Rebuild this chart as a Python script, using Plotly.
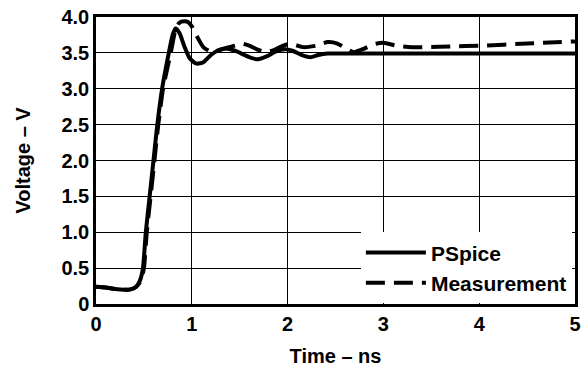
import plotly.graph_objects as go

# PSpice simulation (solid)
pspice_t = [0.0, 0.1, 0.2, 0.3, 0.35, 0.42, 0.46, 0.49, 0.52, 0.56, 0.60, 0.64, 0.69, 0.76, 0.80, 0.83,
            0.87, 0.92, 0.98, 1.05, 1.12, 1.2, 1.28, 1.35, 1.45, 1.55, 1.62, 1.69, 1.78, 1.88, 1.97,
            2.05, 2.15, 2.24, 2.32, 2.42, 2.6, 3.0, 3.5, 4.0, 4.5, 5.0]
pspice_v = [0.24, 0.23, 0.21, 0.20, 0.20, 0.24, 0.33, 0.5, 1.0, 1.5, 2.0, 2.5, 3.0, 3.5, 3.75, 3.84,
            3.78, 3.6, 3.42, 3.35, 3.37, 3.47, 3.54, 3.56, 3.53, 3.47, 3.43, 3.41, 3.45, 3.52, 3.55,
            3.53, 3.47, 3.44, 3.47, 3.49, 3.49, 3.49, 3.49, 3.49, 3.49, 3.49]

# Measurement (dashed)
meas_t = [0.0, 0.1, 0.2, 0.3, 0.35, 0.42, 0.47, 0.5, 0.53, 0.57, 0.61, 0.65, 0.70, 0.78, 0.83, 0.87,
          0.92, 0.96, 1.0, 1.05, 1.12, 1.21, 1.28, 1.36, 1.45, 1.52, 1.6, 1.68, 1.76, 1.84, 1.92,
          2.0, 2.08, 2.16, 2.3, 2.42, 2.52, 2.6, 2.69, 2.8, 2.9, 3.0, 3.14, 3.3, 3.45, 3.7, 4.0,
          4.5, 5.0]
meas_v = [0.24, 0.23, 0.21, 0.20, 0.20, 0.24, 0.33, 0.5, 1.0, 1.5, 2.0, 2.5, 3.0, 3.5, 3.82, 3.92,
          3.94, 3.93, 3.87, 3.74, 3.58, 3.51, 3.53, 3.57, 3.6, 3.63, 3.6, 3.55, 3.51, 3.53, 3.58,
          3.62, 3.61, 3.58, 3.6, 3.65, 3.63, 3.57, 3.51, 3.56, 3.62, 3.64, 3.6, 3.58, 3.58, 3.59, 3.60,
          3.63, 3.66]

x_ticks = [0, 1, 2, 3, 4, 5]
x_tick_labels = ["0", "1", "2", "3", "4", "5"]
y_ticks = [0, 0.5, 1.0, 1.5, 2.0, 2.5, 3.0, 3.5, 4.0]
y_tick_labels = ["0", "0.5", "1.0", "1.5", "2.0", "2.5", "3.0", "3.5", "4.0"]

FONT = "Liberation Sans, Arial, Helvetica, sans-serif"

fig = go.Figure()
fig.add_trace(go.Scatter(x=pspice_t, y=pspice_v, mode="lines", name="PSpice",
                         line=dict(color="black", width=4, shape="spline", smoothing=0.6)))
fig.add_trace(go.Scatter(x=meas_t, y=meas_v, mode="lines", name="Measurement",
                         line=dict(color="black", width=4, dash="19px,9px", shape="spline", smoothing=0.6)))

axis_common = dict(showgrid=True, gridcolor="black", gridwidth=1.3, zeroline=False,
                   showline=True, linecolor="black", linewidth=2.5, mirror=True,
                   ticks="", tickfont=dict(family=FONT, size=20, color="black", weight="bold"))

fig.update_layout(
    width=587, height=371,
    margin=dict(l=96, r=6, t=14, b=63),
    plot_bgcolor="white", paper_bgcolor="white",
    showlegend=True,
    legend=dict(x=0.553, y=0.25, xanchor="left", yanchor="top", bgcolor="white",
                borderwidth=0, itemwidth=60, tracegroupgap=0,
                font=dict(family=FONT, size=21, color="black", weight="bold")),
    xaxis=dict(range=[0, 5], tickvals=x_ticks, ticktext=x_tick_labels,
               title=dict(text="Time – ns", font=dict(family=FONT, size=20, color="black", weight="bold"),
                          standoff=16),
               **axis_common),
    yaxis=dict(range=[0, 4], tickvals=y_ticks, ticktext=y_tick_labels,
               title=dict(text="Voltage – V", font=dict(family=FONT, size=20, color="black", weight="bold"),
                          standoff=26),
               **axis_common),
)

fig.write_html("out.html", config={"displayModeBar": False},
               post_script="document.body.style.margin='0';")
